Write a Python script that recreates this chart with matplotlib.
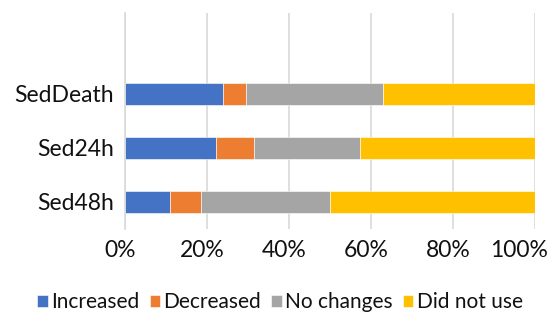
import matplotlib
matplotlib.use("Agg")
import matplotlib.pyplot as plt
import matplotlib.transforms as mtransforms
import numpy as np

plt.rcParams['font.family'] = ['Lato', 'DejaVu Sans']

categories = ["Sed48h", "Sed24h", "SedDeath"]
series_names = ["Increased", "Decreased", "No changes", "Did not use"]
increased = [10.9, 22.1, 23.9]
decreased = [7.6, 9.3, 5.6]
no_changes = [31.4, 25.8, 33.4]
did_not_use = [50.1, 42.8, 37.1]
colors = ["#4472C4", "#ED7D31", "#A5A5A5", "#FFC000"]
xticks = [0, 20, 40, 60, 80, 100]

fig = plt.figure(figsize=(5.55, 3.15), dpi=100)
ax = fig.add_axes([125/555, 1-229/315, 410/555, 216/315])

y = np.arange(len(categories))
left = np.zeros(len(categories))
for name, vals, c in zip(series_names, [increased, decreased, no_changes, did_not_use], colors):
    vals = np.array(vals)
    ax.barh(y, vals, left=left, height=0.4, color=c, label=name,
            edgecolor="white", linewidth=0.4)
    left += vals

ax.set_xlim(0, 100)
ax.set_ylim(-0.5, 3.5)
ax.set_yticks(y)
ax.set_yticklabels(categories, fontsize=16.5, color="#111111")
ax.set_xticks(xticks)
ax.set_xticklabels([f"{t}%" for t in xticks], fontsize=16.5, color="#111111")
ax.tick_params(length=0, pad=8)
ax.tick_params(axis='x', pad=8)
ax.xaxis.grid(True, color="#D9D9D9", linewidth=1.2)
ax.set_axisbelow(True)
for s in ["top", "right", "bottom"]:
    ax.spines[s].set_visible(False)
ax.spines["left"].set_color("#D9D9D9")
ax.spines["left"].set_linewidth(1.2)

# Shift x tick labels slightly left as in the reference; last one more to fit
labels = ax.get_xticklabels()
for i, lab in enumerate(labels):
    dx = -5/100 if i < len(labels) - 1 else -16/100
    lab.set_transform(lab.get_transform() + mtransforms.ScaledTranslation(dx, 0, fig.dpi_scale_trans))

handles, labels_ = ax.get_legend_handles_labels()
fig.legend(handles, labels_, loc="center", bbox_to_anchor=(280/555, 1-302/315),
           ncol=4, frameon=False, fontsize=15, handlelength=0.5, handleheight=0.5,
           handletextpad=0.15, columnspacing=0.5, labelcolor="#111111")

fig.savefig("out.png", dpi=100)
